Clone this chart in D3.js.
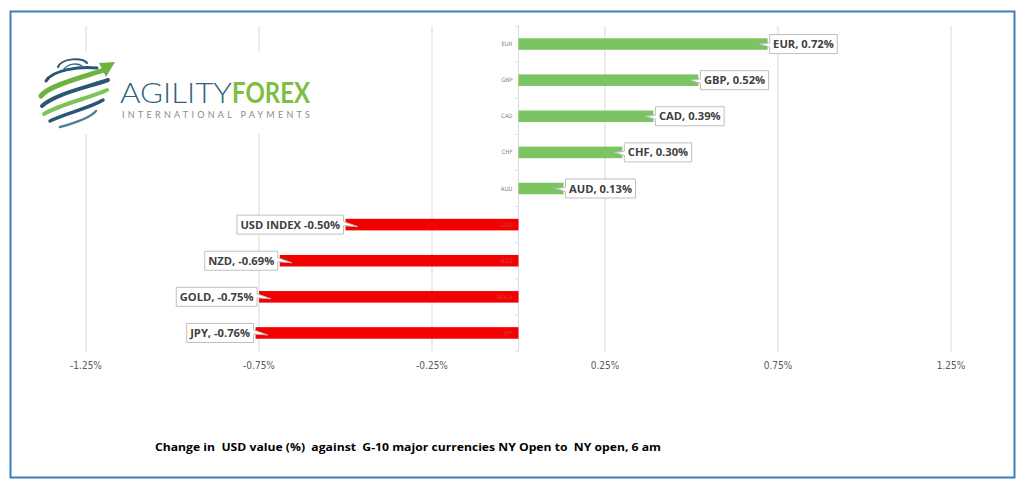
<!DOCTYPE html>
<html><head><meta charset="utf-8">
<script src="https://cdn.jsdelivr.net/npm/d3@7"></script>
<style>
html,body{margin:0;padding:0;background:#fff;}
svg{display:block;}
</style></head>
<body>
<script>
const categories = ["EUR","GBP","CAD","CHF","AUD","USD","NZD","GOLD","JPY"];
const values = [0.72, 0.52, 0.39, 0.30, 0.13, -0.50, -0.69, -0.75, -0.76];
const dataLabels = ["EUR, 0.72%","GBP, 0.52%","CAD, 0.39%","CHF, 0.30%","AUD, 0.13%","USD INDEX -0.50%","NZD, -0.69%","GOLD, -0.75%","JPY, -0.76%"];
const tickValues = [-1.25, -0.75, -0.25, 0.25, 0.75, 1.25];
const tickLabels = ["-1.25%","-0.75%","-0.25%","0.25%","0.75%","1.25%"];
const caption = "Change in  USD value (%)  against  G-10 major currencies NY Open to  NY open, 6 am";

const W = 1024, H = 484;
const svg = d3.select("body").append("svg").attr("width", W).attr("height", H);
svg.append("rect").attr("width", W).attr("height", H).attr("fill", "#fff");

const x = d3.scaleLinear().domain([-1.25, 1.25]).range([86, 951]);
const y = d3.scaleBand().domain(categories).range([26, 351]).paddingInner(0.68).paddingOuter(0.34);

// gridlines
svg.append("g").selectAll("line").data(tickValues).join("line")
  .attr("x1", d => x(d)).attr("x2", d => x(d))
  .attr("y1", 26).attr("y2", 352)
  .attr("stroke", "#d9d9d9").attr("stroke-width", 1);

// zero axis
const x0 = x(0);
svg.append("line").attr("x1", x0).attr("x2", x0).attr("y1", 26).attr("y2", 352)
  .attr("stroke", "#d9d9d9");
const step = y.step();
svg.append("g").selectAll("line").data(d3.range(categories.length + 1)).join("line")
  .attr("x1", x0 - 3).attr("x2", x0)
  .attr("y1", i => 26 + i * step).attr("y2", i => 26 + i * step)
  .attr("stroke", "#d9d9d9");

// bars
const rows = categories.map((c, i) => ({c, v: values[i], label: dataLabels[i]}));
svg.append("g").selectAll("rect").data(rows).join("rect")
  .attr("x", d => Math.min(x(0), x(d.v)))
  .attr("width", d => Math.abs(x(d.v) - x(0)))
  .attr("y", d => y(d.c))
  .attr("height", y.bandwidth())
  .attr("fill", d => d.v >= 0 ? "#7cc461" : "#f50000");

// category labels
svg.append("g").selectAll("text").data(rows).join("text")
  .attr("x", x0 - 6).attr("y", d => y(d.c) + y.bandwidth() / 2 + 2)
  .attr("text-anchor", "end")
  .attr("font-family", "Liberation Sans Narrow, DejaVu Sans Condensed, sans-serif")
  .attr("font-size", 6)
  .attr("fill", d => d.v >= 0 ? "#7f7f7f" : "#c44")
  .text(d => d.c);

// data label callouts
const lg = svg.append("g");
rows.forEach(d => {
  const g = lg.append("g");
  const t = g.append("text")
    .attr("font-family", "Open Sans, sans-serif")
    .attr("font-weight", "bold")
    .attr("font-size", 11.2)
    .attr("fill", "#404040")
    .text(d.label);
  const tw = t.node().getComputedTextLength();
  const bw = tw + 7, bh = 19;
  const cy = y(d.c) + y.bandwidth() / 2;
  const by = cy - 9.5;
  const xe = x(d.v);
  let path;
  if (d.v >= 0) {
    const bx = xe + 2;
    path = `M${bx},${by} L${bx+bw},${by} L${bx+bw},${by+bh} L${bx},${by+bh} L${bx},${cy+3} L${bx-10},${cy} L${bx},${cy-1} Z`;
    t.attr("x", bx + 3.5);
  } else {
    const bx = xe - 2 - bw;
    const r = bx + bw;
    path = `M${bx},${by} L${r},${by} L${r},${cy-3} L${r+14},${cy+2} L${r},${cy+1} L${r},${by+bh} L${bx},${by+bh} Z`;
    t.attr("x", bx + 3.5);
  }
  g.insert("path", "text").attr("d", path).attr("fill", "#fff").attr("stroke", "#bfbfbf").attr("stroke-width", 1);
  t.attr("y", cy + 4);
});

// tick labels
svg.append("g").selectAll("text").data(tickValues).join("text")
  .attr("x", d => x(d)).attr("y", 369)
  .attr("text-anchor", "middle")
  .attr("font-family", "Liberation Sans Narrow, DejaVu Sans Condensed, sans-serif")
  .attr("font-size", 10)
  .attr("fill", "#595959")
  .text((d, i) => tickLabels[i]);

// caption
svg.append("text").attr("x", 155).attr("y", 451)
  .attr("font-family", "Open Sans, sans-serif").attr("font-weight", "bold")
  .attr("font-size", 11).attr("fill", "#000")
  .attr("textLength", 506).attr("lengthAdjust", "spacingAndGlyphs")
  .style("white-space", "pre")
  .text(caption);

// logo
const logo = svg.append("g");
logo.append("rect").attr("x", 34).attr("y", 52).attr("width", 290).attr("height", 82).attr("fill", "#fff");
const arcs = [
  ["M58,67 C62,58 82,57 87,63", "#2a5573", 2],
  ["M64,69 C69,63 78,63 82,66", "#2f6a86", 1.5],
  ["M46,81 C52,70 80,66 97,68", "#2a5573", 3],
  ["M41,96 C48,86 80,78 104,70", "#6db33f", 5],
  ["M42,106 C55,94 85,88 108,80", "#2a5573", 4],
  ["M44,114 C60,104 90,98 107,90", "#7cc35a", 4],
  ["M50,121 C66,113 90,108 103,100", "#2a5573", 3.5],
  ["M60,127 C75,123 90,118 96,111", "#4e7f94", 2.5]
];
arcs.forEach(a => logo.append("path").attr("d", a[0]).attr("fill", "none")
  .attr("stroke", a[1]).attr("stroke-width", a[2]).attr("stroke-linecap", "round"));
logo.append("path").attr("d", "M99,63 L115,62 L106,77 Z").attr("fill", "#6db33f");
logo.append("text").attr("x", 120).attr("y", 102.5)
  .attr("font-family", "Lato, Open Sans, sans-serif").attr("font-size", 28).attr("font-weight", 300)
  .attr("fill", "#2f6580").attr("textLength", 112).attr("lengthAdjust", "spacingAndGlyphs")
  .text("AGILITY");
logo.append("text").attr("x", 232).attr("y", 102.5)
  .attr("font-family", "Lato, Open Sans, sans-serif").attr("font-size", 28).attr("font-weight", 700)
  .attr("fill", "#7dbf45").attr("textLength", 78).attr("lengthAdjust", "spacingAndGlyphs")
  .text("FOREX");
logo.append("text").attr("x", 122).attr("y", 117.5)
  .attr("font-family", "Lato, Open Sans, sans-serif").attr("font-size", 9)
  .attr("fill", "#8a8a8a").attr("textLength", 188).attr("lengthAdjust", "spacing")
  .text("INTERNATIONAL PAYMENTS");

// border
svg.append("rect").attr("x", 10.5).attr("y", 11.5).attr("width", 1004).attr("height", 466)
  .attr("fill", "none").attr("stroke", "#3b7dbd").attr("stroke-width", 2);
</script>
</body></html>
